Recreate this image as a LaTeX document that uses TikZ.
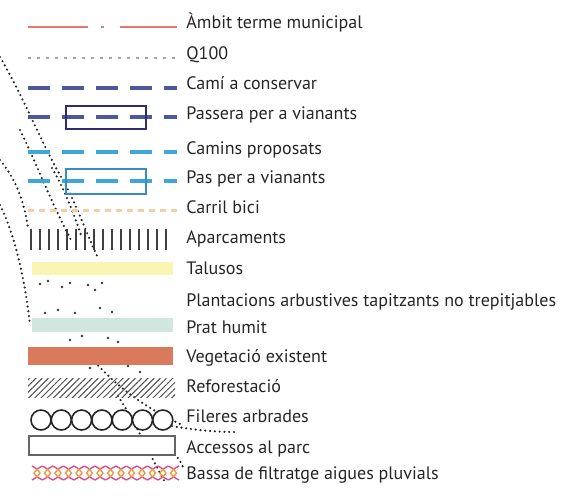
\documentclass[tikz,border=0pt]{standalone}
\usepackage{fontspec}
\setmainfont{PT Sans}
\usepackage{tikz}
\usetikzlibrary{patterns.meta}

\definecolor{ambitred}{HTML}{E8766E}
\definecolor{camiblue}{HTML}{4E5899}
\definecolor{passnavy}{HTML}{2B2E72}
\definecolor{propblue}{HTML}{3FA6DA}
\definecolor{pasblue}{HTML}{3A8ACB}
\definecolor{biciorange}{HTML}{F6CDA8}
\definecolor{talusyellow}{HTML}{FBF5B4}
\definecolor{pratteal}{HTML}{CFE7DF}
\definecolor{vegbrown}{HTML}{D97A5C}
\definecolor{bassapink}{HTML}{D9479B}
\definecolor{bassaorange}{HTML}{F09A3C}
\definecolor{textgray}{HTML}{262626}

\tikzset{
  lbl/.style={anchor=base west, inner sep=0pt, text=textgray, font=\fontsize{9}{11}\selectfont},
  mapdots/.style={line width=1.2pt, line cap=round, dash pattern=on 0pt off 2.4pt, black!85},
}

\begin{document}
\begin{tikzpicture}[x=0.5pt, y=-0.5pt]
	\useasboundingbox (0,0) rectangle (572,495);
%	\draw [gray] (0,0) rectangle (572,495);
	% dotted lines of the map under the legend
	\draw [mapdots] (0,57) .. controls (25,100) and (40,140) .. (60,175) .. controls (75,200) and (85,230) .. (98,258);
	\draw [mapdots] (0,160) .. controls (15,178) and (24,200) .. (28,228);
	\draw [mapdots] (0,205) .. controls (15,235) and (25,280) .. (30,325);
	\draw [mapdots] (20,130) .. controls (35,160) and (50,200) .. (72,242);
	\draw [mapdots] (52,168) .. controls (62,185) and (72,208) .. (82,238);
	\draw [mapdots] (95,362) .. controls (120,390) and (150,410) .. (180,424);
	\draw [mapdots] (118,396) .. controls (140,430) and (152,460) .. (165,482);
	\draw [mapdots] (172,426) .. controls (195,430) and (215,432) .. (235,432);
	\draw [mapdots] (150,440) .. controls (168,446) and (180,456) .. (184,470);
	\foreach \p in {(40,284),(48,281),(62,287),(70,283),(88,285),(95,290),(102,283),(45,313),(58,310),(75,313),(100,308),(112,312),(70,340),(82,336),(108,338),(118,342),(90,368),(128,366),(140,372)}
		\fill [black!80] \p circle [radius=1.3];

	% line symbols
	\draw [ambitred, line width=1.3pt] (28,27) -- (88,27) (101,27) -- (104,27) (120,27) -- (177,27);
	\draw [gray!70, line width=1pt, dash pattern=on 1.5pt off 3pt] (28,58) -- (177,58);
	\draw [camiblue, line width=2.2pt, dash pattern=on 11pt off 6pt] (28,88) -- (177,88);
	\draw [camiblue, line width=2.2pt, dash pattern=on 11pt off 6pt] (28,117) -- (177,117);
	\draw [passnavy, line width=0.8pt] (66,106) rectangle (146,129);
	\draw [propblue, line width=2.2pt, dash pattern=on 11pt off 6pt] (28,152) -- (177,152);
	\draw [propblue, line width=2.2pt, dash pattern=on 11pt off 6pt] (28,181) -- (177,181);
	\draw [pasblue, line width=0.8pt] (66,169) rectangle (146,194);
	\draw [biciorange, line width=1.5pt, dash pattern=on 3pt off 2.5pt] (28,210) -- (177,210);
	\foreach \x in {31,40,...,166}
		\draw [black!75, line width=1.2pt] (\x,229) -- (\x,250);

	% area symbols
	\fill [talusyellow] (32,262) rectangle (173,275);
	\fill [pratteal] (32,318) rectangle (173,332);
	\fill [vegbrown] (28,347) rectangle (173,365);
	\path [pattern={Lines[angle=45, distance=2.2pt, line width=0.5pt]}, pattern color=black!70] (28,378) rectangle (175,397);
	\foreach \i in {0,...,6}
		\draw [black!85, line width=0.8pt, fill=white] (41+\i*20.3,420) circle [radius=10];
	\draw [black!60, line width=0.8pt, fill=white] (29,436) rectangle (175,455);
	\foreach \i in {0,...,13} {
		\draw [bassapink, line width=0.7pt] (32+\i*10.5,466) -- (37+\i*10.5,469) -- (42.5+\i*10.5,466);
		\draw [bassapink, line width=0.7pt] (32+\i*10.5,480) -- (37+\i*10.5,477) -- (42.5+\i*10.5,480);
		\draw [bassaorange, line width=0.7pt] (37+\i*10.5,469) -- (40+\i*10.5,473) -- (37+\i*10.5,477) -- (34+\i*10.5,473) -- cycle;
	}

	% texts
	\node [lbl] (t-ambit) at (186,28) {Àmbit terme municipal};
	\node [lbl] (t-q100) at (186,59) {Q100};
	\node [lbl] (t-cami) at (186,89) {Camí a conservar};
	\node [lbl] (t-passera) at (186,119) {Passera per a vianants};
	\node [lbl] (t-camins) at (186,154) {Camins proposats};
	\node [lbl] (t-pas) at (186,183) {Pas per a vianants};
	\node [lbl] (t-bici) at (186,213) {Carril bici};
	\node [lbl] (t-aparc) at (186,243) {Aparcaments};
	\node [lbl] (t-talus) at (186,274) {Talusos};
	\node [lbl] (t-plant) at (186,306) {Plantacions arbustives tapitzants no trepitjables};
	\node [lbl] (t-prat) at (186,333) {Prat humit};
	\node [lbl] (t-veg) at (186,362) {Vegetació existent};
	\node [lbl] (t-refor) at (186,392) {Reforestació};
	\node [lbl] (t-fileres) at (186,422) {Fileres arbrades};
	\node [lbl] (t-acces) at (186,453) {Accessos al parc};
	\node [lbl] (t-bassa) at (186,479) {Bassa de filtratge aigues pluvials};
\end{tikzpicture}
\end{document}
